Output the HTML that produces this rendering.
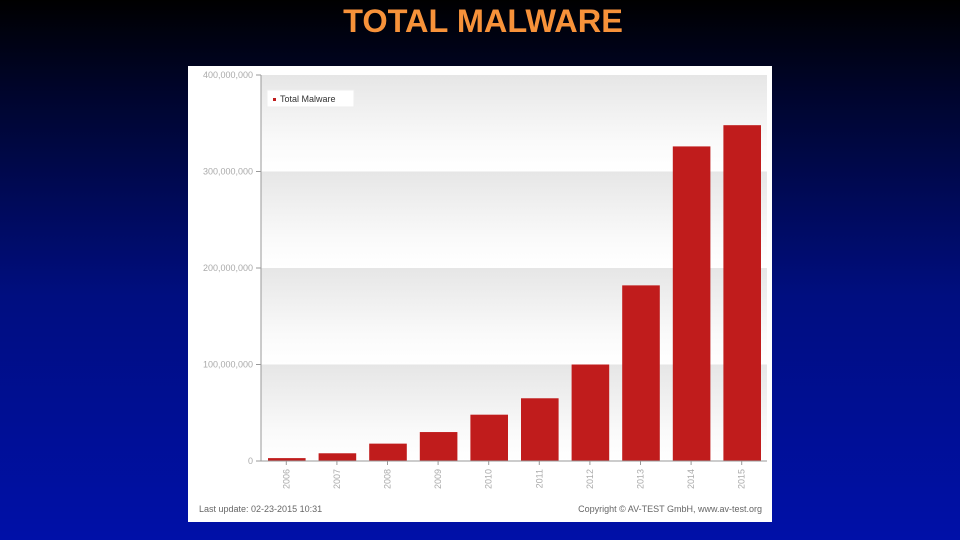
<!DOCTYPE html>
<html><head><meta charset="utf-8"><style>
body{margin:0;width:960px;height:540px;overflow:hidden;background:linear-gradient(180deg,#000 0%,#00052e 18%,#000e80 55%,#0010a8 100%);font-family:"Liberation Sans",sans-serif}
#title{position:absolute;top:3px;left:0;width:966px;text-align:center;color:#f7923a;font-weight:bold;font-size:32.5px}
#panel{position:absolute;left:188px;top:66px;width:584px;height:456px;background:#fff}
</style></head><body>
<div id="title">TOTAL MALWARE</div>
<div id="panel">
<svg id="chart" width="584" height="456">
<defs><linearGradient id="band" x1="0" y1="0" x2="0" y2="1"><stop offset="0" stop-color="#e6e6e6"/><stop offset="0.7" stop-color="#fafafa"/><stop offset="1" stop-color="#fff"/></linearGradient></defs>
</svg>
</div>
<script>
const categories=["2006","2007","2008","2009","2010","2011","2012","2013","2014","2015"];
const values=[3,8,18,30,48,65,100,182,326,348];
const ticks=[0,100,200,300,400];
const tickLabels=["0","100,000,000","200,000,000","300,000,000","400,000,000"];
const svg=document.getElementById('chart');
const NS='http://www.w3.org/2000/svg';
const x0=73,x1=579,y0=395,yTop=9;
const y=v=>y0-(v/400)*(y0-yTop);
const bw=(x1-x0)/categories.length;
const x=i=>x0+i*bw;
function el(t,a,p){const e=document.createElementNS(NS,t);for(const k in a)e.setAttribute(k,a[k]);(p||svg).appendChild(e);return e;}
for(let i=0;i<ticks.length-1;i++){
 const b=el('rect',{x:x0,y:y(ticks[i+1]),width:x1-x0,height:y(ticks[i])-y(ticks[i+1]),fill:'url(#band)'});
 
 
}
ticks.forEach((t,i)=>{
 const tk=el('line',{x1:x0-5,x2:x0,y1:y(t),y2:y(t),stroke:'#999'});
 
 
 const tx=el('text',{x:x0-8,y:y(t)+3,'text-anchor':'end','font-size':'9',fill:'#aaa'});
 tx.textContent=tickLabels[i];
 
 
});
categories.forEach((c,i)=>{
 const r=el('rect',{x:x(i)+7,y:y(values[i]),width:bw-13,height:y0-y(values[i]),fill:'#c01c1c'});
 
 
 const cx=x(i)+bw/2;
 el('line',{x1:cx,x2:cx,y1:y0,y2:y0+4,stroke:'#999'});
 const t=el('text',{x:0,y:0,transform:`translate(${cx+3},${y0+8}) rotate(-90)`,'text-anchor':'end','font-size':'9',fill:'#aaa'});
 t.textContent=c;
 
 
});
const ax=el('line',{x1:x0,x2:x0,y1:yTop,y2:y0,stroke:'#999'});


const bx=el('line',{x1:x0,x2:x1,y1:y0,y2:y0,stroke:'#999'});


const lg=el('g',{});


el('rect',{x:79,y:24,width:87,height:17,fill:'#fff',stroke:'#eee'},lg);
el('rect',{x:85,y:32,width:3,height:3,fill:'#c01c1c'},lg);
const lt=el('text',{x:92,y:36,'font-size':'9',fill:'#333'},lg);
lt.textContent='Total Malware';
const f1=el('text',{x:11,y:446,'font-size':'9',fill:'#666'});
f1.textContent='Last update: 02-23-2015 10:31';


const f2=el('text',{x:574,y:446,'text-anchor':'end','font-size':'9',fill:'#666'});
f2.textContent='Copyright © AV-TEST GmbH, www.av-test.org';


</script>
</body></html>
